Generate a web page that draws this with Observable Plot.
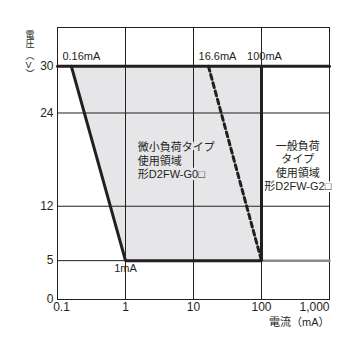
<!DOCTYPE html>
<html>
<head>
<meta charset="utf-8">
<script src="https://cdn.jsdelivr.net/npm/d3@7"></script>
<script src="https://cdn.jsdelivr.net/npm/@observablehq/plot@0.6"></script>
<style>
  html, body { margin: 0; padding: 0; background: #fff; }
  #chart svg { overflow: visible; }
</style>
</head>
<body>
<div id="chart"></div>
<script>
// ---- data ----
const xTickValues = [0.1, 1, 10, 100, 1000];
const xTickLabels = ["0.1", "1", "10", "100", "1,000"];
const yTickValues = [0, 5, 12, 24, 30];
const xGrid = [1, 10, 100];
const yGrid = [5, 12, 24, 30];

// micro-load region boundary (current mA, voltage V)
const regionY = [5, 30];
const regionLeftX = [1, 0.16];
const regionRightX = [100, 100];

// thick boundary polyline
const boundaryX = [0.16, 1, 100, 100];
const boundaryY = [30, 5, 5, 30];
// top voltage limit line
const topLineX = [0.1, 1000];
const topLineY = [30, 30];
// general-load bottom line
const lowLineX = [100, 1000];
const lowLineY = [5, 5];
// dashed boundary
const dashX = [16.6, 100];
const dashY = [30, 5];

// point labels
const pointLabels = ["0.16mA", "16.6mA", "100mA", "1mA"];
const pointLabelX = [0.16, 16.6, 100, 1];
const pointLabelY = [30, 30, 30, 5];

const regionLabelLeft = "微小負荷タイプ\n使用領域\n形D2FW-G0□";
const regionLabelRight = "一般負荷\nタイプ\n使用領域\n形D2FW-G2□";

// ---- build ----
const region = regionY.map((y, i) => ({ y, x1: regionLeftX[i], x2: regionRightX[i] }));
const boundary = boundaryX.map((x, i) => ({ x, y: boundaryY[i] }));
const topLine = topLineX.map((x, i) => ({ x, y: topLineY[i] }));
const lowLine = lowLineX.map((x, i) => ({ x, y: lowLineY[i] }));
const dash = dashX.map((x, i) => ({ x, y: dashY[i] }));
const pts = pointLabels.map((t, i) => ({ t, x: pointLabelX[i], y: pointLabelY[i] }));
const xt = xTickValues.map((v, i) => ({ v, t: xTickLabels[i] }));

const ink = "#231f20";
const fillC = "#e6e6e9";
const font = "'Liberation Sans', Arial, 'Noto Sans CJK JP', sans-serif";

const chart = Plot.plot({
  width: 355,
  height: 352,
  marginLeft: 57,
  marginRight: 26,
  marginTop: 27,
  marginBottom: 53,
  x: { type: "log", domain: [0.1, 1000], axis: null },
  y: { domain: [0, 35], axis: null },
  style: { fontFamily: font, fontSize: "11px", color: ink, background: "#fff" },
  marks: [
    Plot.areaX(region, { y: "y", x1: "x1", x2: "x2", fill: fillC }),
    Plot.ruleX(xGrid, { stroke: ink, strokeWidth: 1 }),
    Plot.ruleY(yGrid, { stroke: ink, strokeWidth: 1 }),
    Plot.frame({ stroke: ink, strokeWidth: 1 }),
    // region texts with halo to interrupt grid
    Plot.text([regionLabelLeft], { x: () => 1.52, y: () => 17.9, text: d => d, textAnchor: "start", lineAnchor: "middle", lineHeight: 1.22, fill: ink, stroke: fillC, strokeWidth: 5, fontSize: 11 }),
    Plot.text([regionLabelRight], { x: () => 342, y: () => 17.2, text: d => d, textAnchor: "middle", lineAnchor: "middle", lineHeight: 1.2, fill: ink, stroke: "#fff", strokeWidth: 4, fontSize: 11 }),
    Plot.line(lowLine, { x: "x", y: "y", stroke: "#8a8a8a", strokeWidth: 2.5 }),
    Plot.line(dash, { x: "x", y: "y", stroke: ink, strokeWidth: 3, strokeDasharray: "5,3.5" }),
    Plot.line(topLine, { x: "x", y: "y", stroke: ink, strokeWidth: 3 }),
    Plot.line(boundary, { x: "x", y: "y", stroke: ink, strokeWidth: 3, strokeLinejoin: "miter" }),
    // point labels (above the 30 V line)
    Plot.text(pts.slice(0, 1), { x: "x", y: "y", text: "t", dy: -10, dx: 10, fill: ink, fontSize: 11 }),
    Plot.text(pts.slice(1, 2), { x: "x", y: "y", text: "t", dy: -10, dx: 9, fill: ink, fontSize: 11 }),
    Plot.text(pts.slice(2, 3), { x: "x", y: "y", text: "t", dy: -10, dx: 3, fill: ink, fontSize: 11 }),
    Plot.text(pts.slice(3), { x: "x", y: "y", text: "t", dy: 8, fill: ink, fontSize: 11 }),
    // y tick labels
    Plot.text(yTickValues, { x: () => 0.1, y: d => d, text: d => String(d), textAnchor: "end", dx: -4, fill: ink, fontSize: 12 }),
    // x tick labels
    Plot.text(xt.slice(1, 4), { x: "v", y: () => 0, text: "t", dy: 8, fill: ink, fontSize: 12 }),
    Plot.text(xt.slice(0, 1), { x: "v", y: () => 0, text: "t", dy: 8, dx: 4, fill: ink, fontSize: 12 }),
    Plot.text(xt.slice(4), { x: "v", y: () => 0, text: "t", dy: 8, textAnchor: "end", fill: ink, fontSize: 12 }),
    // axis labels
    Plot.text(["電流（mA）"], { frameAnchor: "bottom-right", text: d => d, dy: 26, dx: 0, textAnchor: "end", fill: ink, fontSize: 11 }),
    Plot.text(["電\n圧"], { frameAnchor: "top-left", text: d => d, dx: -32, dy: 4, lineHeight: 1.0, lineAnchor: "top", fill: ink, fontSize: 9 }),
    Plot.text(["︵\nV\n︶"], { frameAnchor: "top-left", text: d => d, dx: -32, dy: 25, lineHeight: 1.0, lineAnchor: "top", fill: ink, fontSize: 9 })
  ]
});
document.getElementById("chart").appendChild(chart);
</script>
</body>
</html>
